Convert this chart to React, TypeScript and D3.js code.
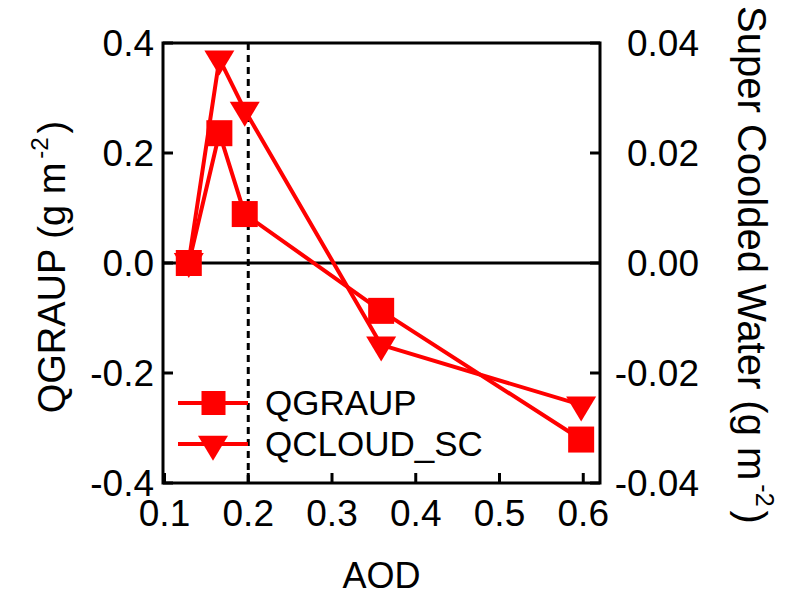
import React from "react";
import * as d3 from "d3";

const aod = [0.129, 0.1655, 0.1958, 0.3587, 0.5975];
const qgraup = [0.0, 0.236, 0.089, -0.087, -0.321];
const qcloudSC = [0.0003, 0.0371, 0.0278, -0.0149, -0.0258];
const xTicks = [0.1, 0.2, 0.3, 0.4, 0.5, 0.6];
const yLeftTicks = [-0.4, -0.2, 0.0, 0.2, 0.4];
const yRightTicks = [-0.04, -0.02, 0.0, 0.02, 0.04];
const seriesNames = ["QGRAUP", "QCLOUD_SC"];
const refLineX = 0.2;

const W = 787;
const H = 607;
const L = 163, R = 600, T = 43, B = 483;
const RED = "#ff0000";
const FONT = "'Liberation Sans', Arial, sans-serif";
const FS = 37;

function Square({ cx, cy, s }: { cx: number; cy: number; s: number }) {
  return <rect x={cx - s / 2} y={cy - s / 2} width={s} height={s} fill={RED} />;
}
function TriDown({ cx, cy, w, h }: { cx: number; cy: number; w: number; h: number }) {
  const top = cy - h / 3;
  const tip = cy + (2 * h) / 3;
  return <path d={`M${cx - w / 2},${top}L${cx + w / 2},${top}L${cx},${tip}Z`} fill={RED} />;
}

const fmt = (t: number, d: number) => (Math.abs(t) < 1e-9 ? 0 : t).toFixed(d);

export default function App() {
  const x = d3.scaleLinear().domain([0.0982, 0.62]).range([L, R]);
  const yL = d3.scaleLinear().domain([-0.4, 0.4]).range([B, T]);
  const yR = d3.scaleLinear().domain([-0.04, 0.04]).range([B, T]);

  const line1 = d3.line<number>().x((_, i) => x(aod[i])).y((d) => yL(d))(qgraup) as string;
  const line2 = d3.line<number>().x((_, i) => x(aod[i])).y((d) => yR(d))(qcloudSC) as string;

  const tickLen = 10;

  return (
    <svg width={W} height={H} style={{ position: "absolute", left: 0, top: 0, background: "#fff" }}
      fontFamily={FONT}>
      <line x1={L} x2={R} y1={yL(0)} y2={yL(0)} stroke="#000" strokeWidth={3} />
      <line x1={x(refLineX)} x2={x(refLineX)} y1={T} y2={B} stroke="#000" strokeWidth={3} strokeDasharray="7,5" />

      <path d={line2} fill="none" stroke={RED} strokeWidth={4} strokeLinejoin="round" />
      <path d={line1} fill="none" stroke={RED} strokeWidth={4} strokeLinejoin="round" />
      {qcloudSC.map((v, i) => (
        <TriDown key={"t" + i} cx={x(aod[i])} cy={yR(v)} w={30} h={25} />
      ))}
      {qgraup.map((v, i) => (
        <Square key={"s" + i} cx={x(aod[i])} cy={yL(v)} s={26} />
      ))}

      <rect x={L} y={T} width={R - L} height={B - T} fill="none" stroke="#000" strokeWidth={3} />

      {xTicks.map((t) => (
        <g key={"xt" + t}>
          <line x1={x(t)} x2={x(t)} y1={B} y2={B - tickLen} stroke="#000" strokeWidth={3} />
          <text x={x(t)} y={526} fontSize={FS} textAnchor="middle">{fmt(t, 1)}</text>
        </g>
      ))}
      {yLeftTicks.map((t) => (
        <g key={"yl" + t}>
          <line x1={L} x2={L + tickLen} y1={yL(t)} y2={yL(t)} stroke="#000" strokeWidth={3} />
          <text x={154} y={yL(t)} dy="0.36em" fontSize={FS} textAnchor="end">{fmt(t, 1)}</text>
        </g>
      ))}
      {yRightTicks.map((t) => (
        <g key={"yr" + t}>
          <line x1={R} x2={R - tickLen} y1={yR(t)} y2={yR(t)} stroke="#000" strokeWidth={3} />
          <text x={699} y={yR(t)} dy="0.36em" fontSize={FS} textAnchor="end">{fmt(t, 2)}</text>
        </g>
      ))}

      <text x={(L + R) / 2} y={588} fontSize={36} textAnchor="middle">AOD</text>
      <text transform={`translate(65,${(T + B) / 2 + 4}) rotate(-90)`} fontSize={38} textAnchor="middle">
        QGRAUP (g m<tspan fontSize={24} dy={-17} dx={4}>-2</tspan><tspan dy={17} dx={4}>)</tspan>
      </text>
      <text transform={`translate(738,${(T + B) / 2 + 2}) rotate(90)`} fontSize={40} textAnchor="middle">
        Super Coolded Water (g m<tspan fontSize={25} dy={-18} dx={4}>-2</tspan><tspan dy={18} dx={4}>)</tspan>
      </text>

      {seriesNames.map((name, i) => {
        const ly = i === 0 ? 403 : 444;
        return (
          <g key={name}>
            <line x1={178} x2={248} y1={ly} y2={ly} stroke={RED} strokeWidth={4} />
            {i === 0 ? <Square cx={213.5} cy={ly} s={24} /> : <TriDown cx={213} cy={ly} w={30} h={25} />}
            <text x={265} y={i === 0 ? 415 : 456} fontSize={35}>{name}</text>
          </g>
        );
      })}
    </svg>
  );
}
